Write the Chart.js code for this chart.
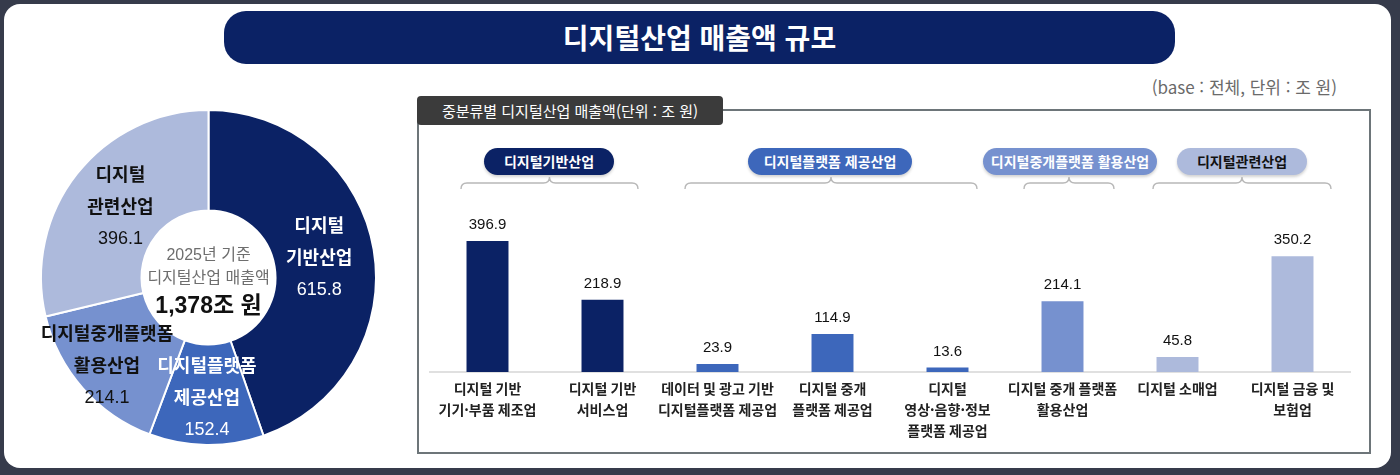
<!DOCTYPE html>
<html lang="ko">
<head>
<meta charset="utf-8">
<title>디지털산업 매출액 규모</title>
<script src="https://cdn.jsdelivr.net/npm/chart.js@4.4.1/dist/chart.umd.min.js"></script>
<style>
    html, body {
        margin: 0;
        padding: 0;
        width: 1400px;
        height: 475px;
        overflow: hidden;
        background: #363b4b;
        font-family: "Liberation Sans", "Noto Sans CJK KR", sans-serif;
    }
    .card {
        position: absolute;
        left: 4px;
        top: 4px;
        width: 1387px;
        height: 464px;
        background: #ffffff;
        border-radius: 16px;
    }
    .title {
        position: absolute;
        left: 224px;
        top: 11px;
        width: 951px;
        height: 53px;
        background: #0b2265;
        border-radius: 22px;
        color: #fff;
        font-family: "Noto Sans CJK KR", sans-serif;
        font-weight: bold;
        font-size: 28px;
        line-height: 53px;
        text-align: center;
    }
    .unit {
        position: absolute;
        right: 63px;
        top: 74px;
        font-family: "Noto Sans CJK KR", sans-serif;
        font-size: 17px;
        color: #6a6a6a;
    }
    .panel {
        position: absolute;
        left: 417px;
        top: 109px;
        width: 950px;
        height: 341px;
        border: 2px solid #6d7579;
    }
    .tab {
        position: absolute;
        left: 417px;
        top: 96px;
        width: 306px;
        height: 29px;
        background: #3b3b3b;
        border-radius: 4px;
        color: #fff;
        font-family: "Noto Sans CJK KR", sans-serif;
        font-size: 15px;
        line-height: 29px;
        text-align: center;
    }
    .pill {
        position: absolute;
        top: 148px;
        height: 27px;
        border-radius: 14px;
        font-family: "Noto Sans CJK KR", sans-serif;
        font-weight: bold;
        font-size: 14px;
        line-height: 27px;
        text-align: center;
        color: #fff;
        box-shadow: 0 2px 3px rgba(0, 0, 0, 0.18);
    }
    #braces {
        position: absolute;
        left: 0;
        top: 0;
    }
    #donutChart {
        position: absolute;
        left: 8px;
        top: 92px;
    }
    #barChart {
        position: absolute;
        left: 424px;
        top: 195px;
    }
</style>
</head>
<body>
<div class="card"></div>
<div class="title">디지털산업 매출액 규모</div>
<div class="unit">(base : 전체, 단위 : 조 원)</div>

<div class="panel"></div>
<div class="tab">중분류별 디지털산업 매출액(단위 : 조 원)</div>

<div class="pill" style="left:484px;width:130px;background:#0b2265;">디지털기반산업</div>
<div class="pill" style="left:748px;width:164px;background:#3d67bb;">디지털플랫폼 제공산업</div>
<div class="pill" style="left:983px;width:174px;background:#7691cf;">디지털중개플랫폼 활용산업</div>
<div class="pill" style="left:1177px;width:130px;background:#adbadc;color:#111;">디지털관련산업</div>

<svg id="braces" width="1400" height="475"></svg>

<canvas id="donutChart" width="400" height="372"></canvas>
<canvas id="barChart" width="932" height="260"></canvas>

<script>
// Data
const sectorLabels = [
    ["디지털", "기반산업"],
    ["디지털플랫폼", "제공산업"],
    ["디지털중개플랫폼", "활용산업"],
    ["디지털", "관련산업"]
];
const sectorValues = [615.8, 152.4, 214.1, 396.1];
const sectorColors = ["#0b2265", "#3d67bb", "#7691cf", "#adbadc"];

const categoryLabels = [
    ["디지털 기반", "기기·부품 제조업"],
    ["디지털 기반", "서비스업"],
    ["데이터 및 광고 기반", "디지털플랫폼 제공업"],
    ["디지털 중개", "플랫폼 제공업"],
    ["디지털", "영상·음향·정보", "플랫폼 제공업"],
    ["디지털 중개 플랫폼", "활용산업"],
    ["디지털 소매업"],
    ["디지털 금융 및", "보험업"]
];
const categoryValues = [396.9, 218.9, 23.9, 114.9, 13.6, 214.1, 45.8, 350.2];
// 각 막대가 속한 대분류 (sectorColors 인덱스)
const categoryGroup = [0, 0, 1, 1, 1, 2, 3, 3];

// Braces under the group pills
const braces = [[461, 638], [685, 977], [1024, 1114], [1153, 1331]];
const svg = document.getElementById("braces");
braces.forEach(([x1, x2]) => {
    const m = (x1 + x2) / 2;
    const d = "M" + x1 + ",189 Q" + x1 + ",183 " + (x1 + 6) + ",183 L" + (m - 6) + ",183 " +
        "Q" + m + ",183 " + m + ",177 Q" + m + ",183 " + (m + 6) + ",183 L" + (x2 - 6) + ",183 " +
        "Q" + x2 + ",183 " + x2 + ",189";
    const path = document.createElementNS("http://www.w3.org/2000/svg", "path");
    path.setAttribute("d", d);
    path.setAttribute("fill", "none");
    path.setAttribute("stroke", "#b8b8b8");
    path.setAttribute("stroke-width", "1.4");
    svg.appendChild(path);
});

const FONT = "'Liberation Sans', 'Noto Sans CJK KR', sans-serif";

// Doughnut labels
const donutLabels = {
    id: "donutLabels",
    afterDatasetsDraw(chart, args, opts) {
        const c = chart.ctx;
        const meta = chart.getDatasetMeta(0);
        c.save();
        c.textAlign = "center";
        c.textBaseline = "middle";
        meta.data.forEach((arc, i) => {
            const p = arc.getProps(["x", "y", "startAngle", "endAngle", "innerRadius", "outerRadius"], true);
            const mid = (p.startAngle + p.endAngle) / 2;
            const r = p.innerRadius + (p.outerRadius - p.innerRadius) * opts.radius[i];
            const x = p.x + Math.cos(mid) * r;
            const y = p.y + Math.sin(mid) * r;
            const lines = sectorLabels[i].concat([sectorValues[i].toFixed(1)]);
            c.fillStyle = i < 2 ? "#ffffff" : "#111111";
            lines.forEach((t, j) => {
                c.font = (j < lines.length - 1 ? "bold " : "") + "18px " + FONT;
                c.fillText(t, x, y + (j - 1) * 31.5);
            });
        });

        // 가운데 글씨
        const cx = meta.data[0].x;
        const cy = meta.data[0].y;
        const total = sectorValues.reduce((a, b) => a + b, 0);
        c.fillStyle = "#6e6e6e";
        c.font = "16px " + FONT;
        c.fillText("2025년 기준", cx, cy - 22);
        c.fillText("디지털산업 매출액", cx, cy + 1);
        c.fillStyle = "#111111";
        c.font = "bold 23px " + FONT;
        c.fillText(Math.round(total).toLocaleString("en-US") + "조 원", cx, cy + 29);
        c.restore();
    }
};

new Chart(document.getElementById("donutChart"), {
    type: "doughnut",
    data: {
        labels: sectorLabels.map(l => l.join("")),
        datasets: [{
            data: sectorValues,
            backgroundColor: sectorColors,
            borderColor: "#ffffff",
            borderWidth: 2
        }]
    },
    options: {
        responsive: false,
        animation: false,
        cutout: "40%",
        layout: {
            padding: { left: 32, right: 31, top: 17, bottom: 18 }
        },
        plugins: {
            legend: { display: false },
            tooltip: { enabled: false },
            donutLabels: { radius: [0.45, 0.54, 0.68, 0.45] }
        }
    },
    plugins: [donutLabels]
});

// Bar value labels
const barValues = {
    id: "barValues",
    afterDatasetsDraw(chart) {
        const c = chart.ctx;
        c.save();
        c.font = "15px " + FONT;
        c.fillStyle = "#111111";
        c.textAlign = "center";
        c.textBaseline = "middle";
        chart.getDatasetMeta(0).data.forEach((bar, i) => {
            c.fillText(categoryValues[i].toFixed(1), bar.x, bar.y - 16);
        });
        c.restore();
    }
};

new Chart(document.getElementById("barChart"), {
    type: "bar",
    data: {
        labels: categoryLabels,
        datasets: [{
            data: categoryValues,
            backgroundColor: categoryGroup.map(g => sectorColors[g]),
            barPercentage: 0.365,
            categoryPercentage: 1
        }]
    },
    options: {
        responsive: false,
        animation: false,
        layout: {
            padding: { left: 6, right: 6, top: 0, bottom: 8 }
        },
        plugins: {
            legend: { display: false },
            tooltip: { enabled: false }
        },
        scales: {
            x: {
                grid: { display: false, drawTicks: false },
                border: { display: true, color: "#e0e0e0", width: 2 },
                ticks: {
                    padding: 6,
                    color: "#222222",
                    maxRotation: 0,
                    autoSkip: false,
                    font: { family: "'Noto Sans CJK KR', sans-serif", size: 14, weight: "bold", lineHeight: 1.5 }
                }
            },
            y: {
                display: false,
                min: 0,
                max: 536
            }
        }
    },
    plugins: [barValues]
});
</script>
</body>
</html>
